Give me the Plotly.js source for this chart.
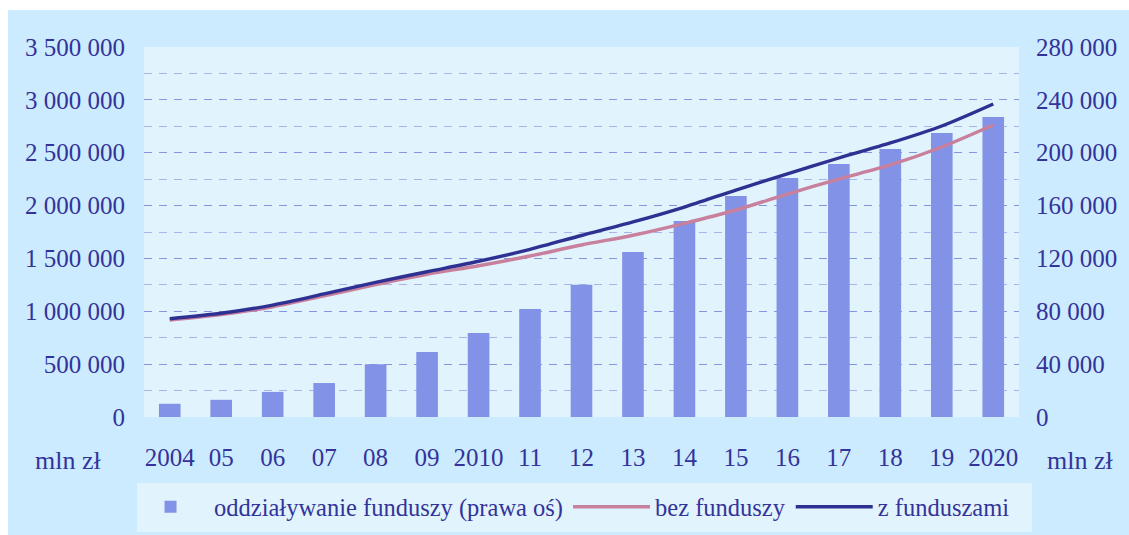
<!DOCTYPE html>
<html>
<head>
<meta charset="utf-8">
<script src="https://cdn.plot.ly/plotly-3.0.1.min.js"></script>
<style>
  html, body { margin: 0; padding: 0; background: #ffffff; }
  #bg { position: absolute; left: 8px; top: 10px; width: 1121px; height: 525px; background: #CCEBFF; }
  #chart { position: absolute; left: 0; top: 0; width: 1129px; height: 535px; }
</style>
</head>
<body>
<div id="bg"></div>
<div id="chart"></div>
<script>
const years = ['2004','05','06','07','08','09','2010','11','12','13','14','15','16','17','18','19','2020'];
const impact = [10000, 13000, 19000, 25700, 40000, 49200, 63600, 81700, 100000, 124900, 148300, 167200, 180900, 191500, 202800, 214900, 227000];
const withoutFunds = [918000, 968000, 1043000, 1145000, 1252000, 1350000, 1431000, 1523000, 1627000, 1719000, 1832000, 1958000, 2109000, 2251000, 2384000, 2554000, 2762000];
const withFunds = [930000, 981000, 1059000, 1164000, 1274000, 1374000, 1473000, 1586000, 1717000, 1845000, 1986000, 2147000, 2299000, 2450000, 2592000, 2753000, 2961000];

const FONT = "'Liberation Serif', 'Times New Roman', serif";
const TXT = '#333399';

const traces = [
  { type: 'bar', x: years, y: impact, name: 'oddziaływanie funduszy (prawa oś)',
    yaxis: 'y', marker: { color: '#8292E6' }, width: 0.42 },
  { type: 'scatter', mode: 'lines', x: years, y: withoutFunds, name: 'bez funduszy',
    yaxis: 'y2', line: { color: '#C8809C', width: 3.4, shape: 'spline', smoothing: 0.8 } },
  { type: 'scatter', mode: 'lines', x: years, y: withFunds, name: 'z funduszami',
    yaxis: 'y2', line: { color: '#2E3192', width: 3.4, shape: 'spline', smoothing: 0.8 } }
];

const layout = {
  width: 1129, height: 535,
  margin: { l: 144, r: 110, t: 47, b: 118, autoexpand: false },
  paper_bgcolor: 'rgba(0,0,0,0)',
  plot_bgcolor: '#E1F3FD',
  separators: ', ',
  font: { family: FONT, color: TXT, size: 24 },
  showlegend: true,
  xaxis: {
    type: 'category', showgrid: false, zeroline: false, showline: false, ticks: '',
    tickfont: { family: FONT, size: 25, color: TXT }, ticklabelstandoff: 23
  },
  yaxis: {
    side: 'right', range: [0, 280000], dtick: 40000, tickformat: ',d',
    showgrid: true, gridcolor: '#8495E2', gridwidth: 1, griddash: '8px,7px',
    minor: { dtick: 20000, showgrid: true, gridcolor: '#A8B4EA', gridwidth: 1, griddash: '8px,7px' },
    zeroline: false, showline: false, ticks: '',
    tickfont: { family: FONT, size: 25, color: TXT }, ticklabelstandoff: 16
  },
  yaxis2: {
    side: 'left', overlaying: 'y', range: [0, 3500000], dtick: 500000, tickformat: ',d',
    showgrid: false, zeroline: false, showline: false, ticks: '',
    tickfont: { family: FONT, size: 25, color: TXT }, ticklabelstandoff: 18
  },
  legend: {
    orientation: 'h', x: -0.0194, xanchor: 'left', y: -0.182, yanchor: 'top',
    bgcolor: 'rgba(0,0,0,0)', font: { family: FONT, size: 24.5, color: TXT },
    itemwidth: 77, traceorder: 'normal'
  },
  shapes: [
    { type: 'rect', xref: 'paper', yref: 'paper', layer: 'below',
      x0: (137 - 144) / 875, x1: (1032 - 144) / 875,
      y0: (417 - 532) / 370, y1: (417 - 483) / 370,
      fillcolor: '#E1F3FD', line: { width: 0 } }
  ],
  annotations: [
    { xref: 'paper', yref: 'paper', x: (68 - 144) / 875, y: (417 - 460) / 370,
      text: 'mln zł', showarrow: false, xanchor: 'center', yanchor: 'middle',
      font: { family: FONT, size: 26, color: TXT } },
    { xref: 'paper', yref: 'paper', x: (1080 - 144) / 875, y: (417 - 460) / 370,
      text: 'mln zł', showarrow: false, xanchor: 'center', yanchor: 'middle',
      font: { family: FONT, size: 26, color: TXT } }
  ]
};

Plotly.newPlot('chart', traces, layout, { displayModeBar: false, staticPlot: true });
</script>
</body>
</html>
